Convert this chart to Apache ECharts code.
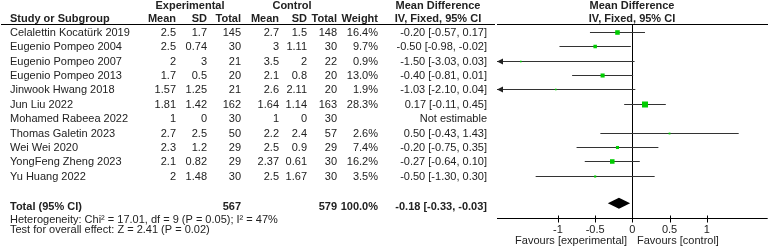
<!DOCTYPE html>
<html><head><meta charset="utf-8">
<script src="https://cdn.jsdelivr.net/npm/echarts@6/dist/echarts.min.js"></script>
<style>html,body{margin:0;padding:0;background:#fff}#c{width:778px;height:249px}</style>
</head><body><div id="c"></div>
<script>
const studies = ['Celalettin Kocatürk 2019','Eugenio Pompeo 2004','Eugenio Pompeo 2007','Eugenio Pompeo 2013','Jinwook Hwang 2018','Jun Liu 2022','Mohamed Rabeea 2022','Thomas Galetin 2023','Wei Wei 2020','YongFeng Zheng 2023','Yu Huang 2022'];
const expMean = ['2.5','2.5','2','1.7','1.57','1.81','1','2.7','2.3','2.1','2'];
const expSD   = ['1.7','0.74','3','0.5','1.25','1.42','0','2.5','1.2','0.82','1.48'];
const expN    = ['145','30','21','20','21','162','30','50','29','29','30'];
const ctlMean = ['2.7','3','3.5','2.1','2.6','1.64','1','2.2','2.5','2.37','2.5'];
const ctlSD   = ['1.5','1.11','2','0.8','2.11','1.14','0','2.4','0.9','0.61','1.67'];
const ctlN    = ['148','30','22','20','20','163','30','57','29','30','30'];
const weights = [16.4, 9.7, 0.9, 13.0, 1.9, 28.3, null, 2.6, 7.4, 16.2, 3.5];
const md      = [-0.20, -0.50, -1.50, -0.40, -1.03, 0.17, null, 0.50, -0.20, -0.27, -0.50];
const ciLow   = [-0.57, -0.98, -3.03, -0.81, -2.10, -0.11, null, -0.43, -0.75, -0.64, -1.30];
const ciHigh  = [0.17, -0.02, 0.03, 0.01, 0.04, 0.45, null, 1.43, 0.35, 0.10, 0.30];
const total = {expN: '567', ctlN: '579', weight: '100.0%', md: -0.18, lo: -0.33, hi: -0.03};
const xTicks = [-1, -0.5, 0, 0.5, 1];
const heterogeneity = 'Heterogeneity: Chi\u00B2 = 17.01, df = 9 (P = 0.05); I\u00B2 = 47%';
const overallTest = 'Test for overall effect: Z = 2.41 (P = 0.02)';

const fmt = v => v.toFixed(2);
const weightTxt = weights.map(w => w == null ? '' : w.toFixed(1) + '%');
const ciTxt = md.map((m, i) => m == null ? 'Not estimable' : fmt(m) + ' [' + fmt(ciLow[i]) + ', ' + fmt(ciHigh[i]) + ']');

const FONT = '"Liberation Sans", Arial, sans-serif';
const TXT = '#222';
const XMIN = -1.82, XMAX = 1.82;
const YMIN = -0.5, YMAX = 12.95;
const TOTAL_TEXT_ROW = 12.12, TOTAL_DIAMOND_ROW = 11.9;

const chart = echarts.init(document.getElementById('c'), null, {renderer: 'canvas'});

function textSeries(xPos, values, align, bold, rowOverride) {
  return {
    type: 'custom', xAxisIndex: 0, yAxisIndex: 0, silent: true,
    data: values.map((v, i) => [xPos, rowOverride != null ? rowOverride : i]),
    renderItem: function (params, api) {
      const t = values[params.dataIndex];
      if (!t) return null;
      const p = api.coord([api.value(0), api.value(1)]);
      return {type: 'text', x: p[0], y: p[1] + 1,
        style: {text: t, textAlign: align, textVerticalAlign: 'middle',
          font: (bold ? 'bold ' : '') + '11px ' + FONT, fill: TXT}};
    }
  };
}

const rowIdx = studies.map((s, i) => i);
const forestData = rowIdx.filter(i => md[i] != null).map(i => [md[i], i, ciLow[i], ciHigh[i], weights[i]]);

const series = [
  textSeries(10, studies, 'left', false),
  textSeries(176, expMean, 'right', false),
  textSeries(207, expSD, 'right', false),
  textSeries(241, expN, 'right', false),
  textSeries(279, ctlMean, 'right', false),
  textSeries(307, ctlSD, 'right', false),
  textSeries(337, ctlN, 'right', false),
  textSeries(378, weightTxt, 'right', false),
  textSeries(487, ciTxt, 'right', false),
  textSeries(10, ['Total (95% CI)'], 'left', true, TOTAL_TEXT_ROW),
  textSeries(241, [total.expN], 'right', true, TOTAL_TEXT_ROW),
  textSeries(337, [total.ctlN], 'right', true, TOTAL_TEXT_ROW),
  textSeries(378, [total.weight], 'right', true, TOTAL_TEXT_ROW),
  textSeries(487, [fmt(total.md) + ' [' + fmt(total.lo) + ', ' + fmt(total.hi) + ']'], 'right', true, TOTAL_TEXT_ROW),
  {
    type: 'custom', xAxisIndex: 1, yAxisIndex: 1, silent: true, z: 3,
    data: forestData,
    renderItem: function (params, api) {
      const m = api.value(0), row = api.value(1), lo = api.value(2), hi = api.value(3), w = api.value(4);
      const y = Math.round(api.coord([0, row])[1]) + 0.5;
      const xl = api.coord([Math.max(lo, XMIN), row])[0];
      const xh = api.coord([Math.min(hi, XMAX), row])[0];
      const xm = api.coord([m, row])[0];
      const s = Math.max(1.6, 6 * Math.sqrt(w / 28.3));
      const children = [
        {type: 'line', shape: {x1: xl, y1: y, x2: xh, y2: y}, style: {stroke: '#333', lineWidth: 1}},
        {type: 'rect', shape: {x: xm - s / 2, y: y - s / 2, width: s, height: s}, style: {fill: '#00cc00'}}
      ];
      if (lo < XMIN) children.push({type: 'polygon', shape: {points: [[xl, y], [xl + 6, y - 3], [xl + 6, y + 3]]}, style: {fill: '#222'}});
      if (hi > XMAX) children.push({type: 'polygon', shape: {points: [[xh, y], [xh - 6, y - 3], [xh - 6, y + 3]]}, style: {fill: '#222'}});
      return {type: 'group', children: children};
    }
  },
  {
    type: 'custom', xAxisIndex: 1, yAxisIndex: 1, silent: true, z: 3,
    data: [[total.md, TOTAL_DIAMOND_ROW, total.lo, total.hi]],
    renderItem: function (params, api) {
      const row = api.value(1);
      const y = api.coord([0, row])[1];
      const xl = api.coord([api.value(2), row])[0];
      const xh = api.coord([api.value(3), row])[0];
      const xm = api.coord([api.value(0), row])[0];
      return {type: 'polygon', shape: {points: [[xl, y], [xm, y - 5.5], [xh, y], [xm, y + 5.5]]}, style: {fill: '#000'}};
    }
  }
];

const hdr = (x, y, t, align, bold) => ({type: 'text', x: x, y: y,
  style: {text: t, textAlign: align, textVerticalAlign: 'middle', font: (bold ? 'bold ' : '') + '11px ' + FONT, fill: TXT}});

const staticGraphics = [
  hdr(190, 6, 'Experimental', 'center', true),
  hdr(292, 6, 'Control', 'center', true),
  hdr(438, 6, 'Mean Difference', 'center', true),
  hdr(632, 6, 'Mean Difference', 'center', true),
  hdr(10, 19, 'Study or Subgroup', 'left', true),
  hdr(176, 19, 'Mean', 'right', true),
  hdr(207, 19, 'SD', 'right', true),
  hdr(241, 19, 'Total', 'right', true),
  hdr(279, 19, 'Mean', 'right', true),
  hdr(307, 19, 'SD', 'right', true),
  hdr(337, 19, 'Total', 'right', true),
  hdr(378, 19, 'Weight', 'right', true),
  hdr(438, 19, 'IV, Fixed, 95% CI', 'center', true),
  hdr(632, 19, 'IV, Fixed, 95% CI', 'center', true),
  {type: 'line', shape: {x1: 1, y1: 24.5, x2: 495, y2: 24.5}, style: {stroke: '#000', lineWidth: 1}},
  {type: 'line', shape: {x1: 497, y1: 24.5, x2: 768, y2: 24.5}, style: {stroke: '#000', lineWidth: 1}},
  hdr(10, 219.5, heterogeneity, 'left', false),
  hdr(10, 230, overallTest, 'left', false),
  hdr(627, 241, 'Favours [experimental]', 'right', false),
  hdr(637, 241, 'Favours [control]', 'left', false)
];

const option = {
  animation: false,
  grid: [
    {left: 0, width: 497, top: 24.5, height: 193.8},
    {left: 497, width: 270.7, top: 24.5, height: 193.8}
  ],
  xAxis: [
    {gridIndex: 0, type: 'value', min: 0, max: 497, show: false},
    {gridIndex: 1, type: 'value', min: XMIN, max: XMAX, position: 'bottom',
      axisLine: {show: false, onZero: false},
      axisTick: {show: false},
      axisLabel: {customValues: xTicks, margin: 6, fontSize: 11, fontFamily: FONT, color: TXT},
      splitLine: {show: false}}
  ],
  yAxis: [
    {gridIndex: 0, type: 'value', min: YMIN, max: YMAX, inverse: true, show: false},
    {gridIndex: 1, type: 'value', min: YMIN, max: YMAX, inverse: true, show: false}
  ],
  graphic: staticGraphics,
  series: series
};
chart.setOption(option);

// axis baseline, crossing ticks and zero line, positioned through the chart's own scales
const px = (x, y) => chart.convertToPixel({xAxisIndex: 1, yAxisIndex: 1}, [x, y]);
const pTop = px(0, YMIN), pBot = px(0, YMAX);
const yb = Math.round(pBot[1]) + 0.5;
const x0 = Math.round(pTop[0]) + 0.5;
const axisGraphics = [
  {type: 'line', shape: {x1: x0, y1: pTop[1], x2: x0, y2: yb}, style: {stroke: '#000', lineWidth: 1}},
  {type: 'line', shape: {x1: px(XMIN, YMAX)[0], y1: yb, x2: px(XMAX, YMAX)[0], y2: yb}, style: {stroke: '#000', lineWidth: 1}}
];
xTicks.forEach(function (t) {
  const xt = Math.round(px(t, YMAX)[0]) + 0.5;
  axisGraphics.push({type: 'line', shape: {x1: xt, y1: yb - 3, x2: xt, y2: yb + 4}, style: {stroke: '#000', lineWidth: 1}});
});
chart.setOption({graphic: staticGraphics.concat(axisGraphics)});
</script></body></html>
